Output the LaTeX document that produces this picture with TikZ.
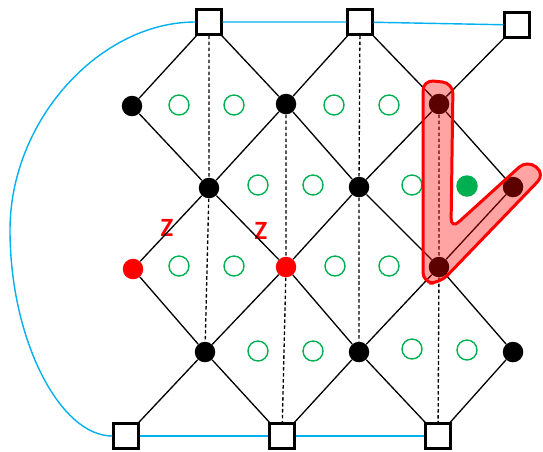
\documentclass[tikz,border=0pt]{standalone}
\usepackage{fontspec}
\usepackage{xcolor}
\usepackage{tikz}
\usetikzlibrary{arrows.meta,positioning}
\newfontfamily\labelfont{Carlito}
\definecolor{cutblue}{RGB}{0,176,240}
\definecolor{plaqgreen}{RGB}{0,176,80}
\definecolor{defred}{RGB}{255,0,0}

\begin{document}
\begin{tikzpicture}[x=0.02cm, y=-0.02cm,
  bnd/.style={draw, line width=1.6pt, fill=white, minimum size=0.49cm, inner sep=0pt},
  qubit/.style={circle, fill=black, minimum size=0.41cm, inner sep=0pt},
  defect/.style={circle, fill=defred, minimum size=0.41cm, inner sep=0pt},
  plaq/.style={circle, draw=plaqgreen, line width=0.8pt, minimum size=0.4cm, inner sep=0pt},
  plaqon/.style={circle, fill=plaqgreen, minimum size=0.43cm, inner sep=0pt},
  edge/.style={line width=0.75pt},
  rung/.style={line width=0.75pt, dash pattern=on 2pt off 1.4pt},
  cut/.style={cutblue, line width=0.8pt},
  zlab/.style={text=defred, font=\labelfont\bfseries\fontsize{15}{17}\selectfont, inner sep=0pt}]
  \useasboundingbox (0,0) rectangle (543,451);
  % boundary squares
  \node[bnd] (sqT1) at (209,22) {};
  \node[bnd] (sqT2) at (360,22) {};
  \node[bnd] (sqT3) at (517,25) {};
  \node[bnd] (sqB1) at (126,436) {};
  \node[bnd] (sqB2) at (282,436) {};
  \node[bnd] (sqB3) at (438,436) {};
  % vertices
  \node[qubit] (v11) at (132,106) {};
  \node[qubit] (v12) at (286,104) {};
  \node[qubit] (v13) at (439,104) {};
  \node[qubit] (v21) at (209,188) {};
  \node[qubit] (v22) at (359,187) {};
  \node[qubit] (v23) at (513,187) {};
  \node[defect] (v31) at (133,269) {};
  \node[defect] (v32) at (286,267) {};
  \node[qubit] (v33) at (439,267) {};
  \node[qubit] (v41) at (205,352) {};
  \node[qubit] (v42) at (359,352) {};
  \node[qubit] (v43) at (513,352) {};
  % plaquettes
  \node[plaq] (p11) at (179,105) {};
  \node[plaq] (p12) at (234,105) {};
  \node[plaq] (p13) at (334,105) {};
  \node[plaq] (p14) at (389,105) {};
  \node[plaq] (p21) at (258,185) {};
  \node[plaq] (p22) at (313,185) {};
  \node[plaq] (p23) at (412,185) {};
  \node[plaqon] (p24) at (467,186) {};
  \node[plaq] (p31) at (179,266) {};
  \node[plaq] (p32) at (234,266) {};
  \node[plaq] (p33) at (335,266) {};
  \node[plaq] (p34) at (389,266) {};
  \node[plaq] (p41) at (258,351) {};
  \node[plaq] (p42) at (313,351) {};
  \node[plaq] (p43) at (412,349) {};
  \node[plaq] (p44) at (467,350) {};
  % labels
  \node[zlab] (zL) at (167,228) {Z};
  \node[zlab] (zR) at (261,231) {Z};
  % lattice edges
  \draw[edge] (sqT1) -- (v11) (sqT1) -- (v12) (sqT2) -- (v12) (sqT2) -- (v13) (sqT3) -- (v13);
  \draw[edge] (v11) -- (v21) (v12) -- (v21) (v12) -- (v22) (v13) -- (v22) (v13) -- (v23);
  \draw[edge] (v21) -- (v31) (v21) -- (v32) (v22) -- (v32) (v22) -- (v33) (v23) -- (v33);
  \draw[edge] (v31) -- (v41) (v32) -- (v41) (v32) -- (v42) (v33) -- (v42) (v33) -- (v43);
  \draw[edge] (v41) -- (sqB1) (v41) -- (sqB2) (v42) -- (sqB2) (v42) -- (sqB3) (v43) -- (sqB3);
  \draw[rung] (sqT1) -- (v21) -- (v41);
  \draw[rung] (v12) -- (v32) -- (sqB2);
  \draw[rung] (sqT2) -- (v22) -- (v42);
  \draw[rung] (v13) -- (v33) -- (sqB3);
  % boundary links
  \draw[cut] (sqT1) -- (sqT2) (sqT2) -- (sqT3);
  \draw[cut] (sqB1) -- (sqB2) (sqB2) -- (sqB3);
  \draw[cut] (sqT1.west) .. controls (100,22) and (10,120) .. (10,230)
    .. controls (10,340) and (60,436) .. (sqB1.west);
  % string operator
  \draw[defred, line width=1.7pt, fill=defred, fill opacity=0.36, rounded corners=6]
    (423,150) -- (423,80) -- (453,83) -- (451,229) -- (527,160) -- (545,174)
    -- (440,283) -- (423,283) -- cycle;
\end{tikzpicture}
\end{document}
